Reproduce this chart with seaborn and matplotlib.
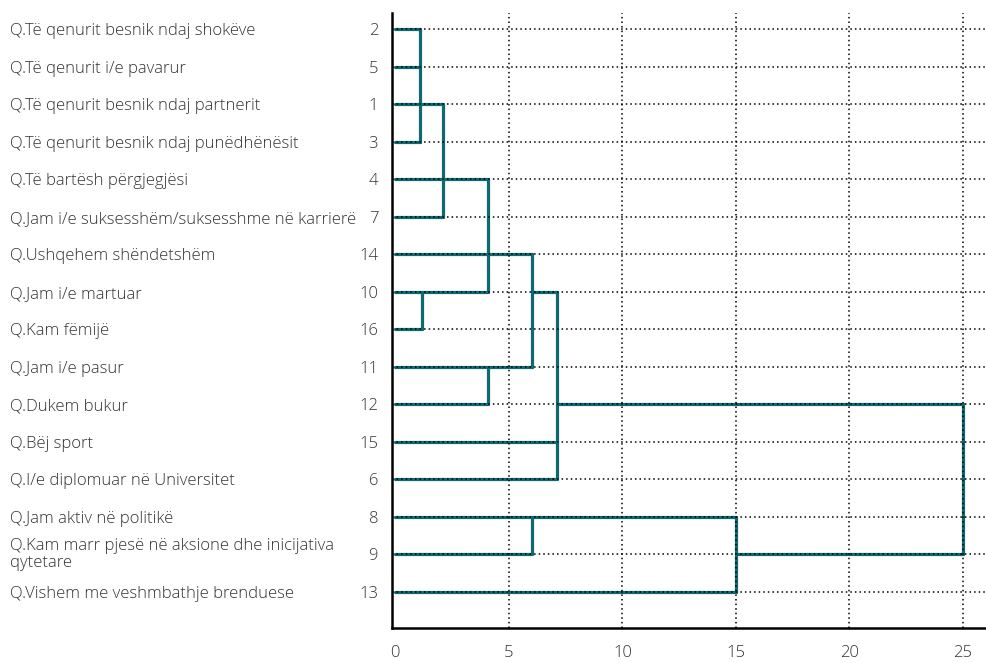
"""
Dendrogram (rescaled distance) of the Q-items, drawn with seaborn lineplot.
"""

import numpy as np
import pandas as pd
import matplotlib
matplotlib.use("Agg")
import matplotlib.pyplot as plt
import matplotlib.transforms as mtransforms
import seaborn as sns

# Leaves, top to bottom
leaf_ids = [2, 5, 1, 3, 4, 7, 14, 10, 16, 11, 12, 15, 6, 8, 9, 13]
leaf_labels = [
    "Q.Të qenurit besnik ndaj shokëve",
    "Q.Të qenurit i/e pavarur",
    "Q.Të qenurit besnik ndaj partnerit",
    "Q.Të qenurit besnik ndaj punëdhënësit",
    "Q.Të bartësh përgjegjësi",
    "Q.Jam i/e suksesshëm/suksesshme në karrierë",
    "Q.Ushqehem shëndetshëm",
    "Q.Jam i/e martuar",
    "Q.Kam fëmijë",
    "Q.Jam i/e pasur",
    "Q.Dukem bukur",
    "Q.Bëj sport",
    "Q.I/e diplomuar në Universitet",
    "Q.Jam aktiv në politikë",
    "Q.Kam marr pjesë në aksione dhe inicijativa\nqytetare",
    "Q.Vishem me veshmbathje brenduese",
]

# Horizontal links: row index, start distance, end distance
h_row = [0, 1, 2, 3, 4, 5, 6, 7, 7, 8, 9, 10, 10, 11, 12, 13, 14, 14, 15]
h_from = [0, 0, 0, 0, 0, 0, 0, 0, 6.02, 0, 0, 0, 7.11, 0, 0, 0, 0, 15.0, 0]
h_to = [1.09, 1.09, 2.10, 1.09, 4.08, 2.10, 6.02, 4.08, 7.11, 1.16, 6.02,
        4.08, 25.0, 7.11, 7.11, 15.0, 6.02, 25.0, 15.0]

# Vertical links: distance, first row, last row
v_dist = [1.09, 2.10, 4.08, 1.16, 4.08, 6.02, 7.11, 6.02, 15.0, 25.0]
v_top = [0, 2, 4, 7, 9, 6, 7, 13, 13, 10]
v_bottom = [3, 5, 7, 8, 10, 9, 12, 14, 15, 14]

x_ticks = [0, 5, 10, 15, 20, 25]

LINE_COLOR = "#0e6a70"
TEXT_COLOR = "#333333"
FONT_SIZE = 12


def build_segments():
    rows = []
    seg = 0
    for r, a, b in zip(h_row, h_from, h_to):
        rows.append((seg, a, r))
        rows.append((seg, b, r))
        seg += 1
    for d, t, b in zip(v_dist, v_top, v_bottom):
        rows.append((seg, d, t))
        rows.append((seg, d, b))
        seg += 1
    return pd.DataFrame(rows, columns=["seg", "dist", "row"])


def main():
    sns.set_theme(style="white")
    plt.rcParams["font.family"] = ["Open Sans", "DejaVu Sans"]
    plt.rcParams["font.weight"] = "light"

    fig = plt.figure(figsize=(9.87, 6.63), dpi=100)
    ax = fig.add_axes([392 / 987, 35 / 663, 1 - 392 / 987, (628 - 13) / 663])

    df = build_segments()
    sns.lineplot(data=df, x="dist", y="row", units="seg", estimator=None,
                 sort=False, color=LINE_COLOR, linewidth=2.3, ax=ax,
                 legend=False, zorder=2)

    ax.set_xlim(-0.145, 26.06)
    ax.set_ylim(15.96, -0.43)
    ax.set_xlabel("")
    ax.set_ylabel("")

    ax.set_xticks(x_ticks)
    ax.set_xticklabels([str(t) for t in x_ticks])
    ax.set_yticks(range(len(leaf_ids)))
    ax.set_yticklabels([str(i) for i in leaf_ids])
    ax.tick_params(axis="x", length=0, pad=12, labelsize=FONT_SIZE, labelcolor=TEXT_COLOR)
    ax.tick_params(axis="y", length=0, pad=10, labelsize=FONT_SIZE, labelcolor=TEXT_COLOR)

    # dotted grid drawn over the links
    ax.set_axisbelow(False)
    ax.grid(True, color="black", linestyle=(0, (1, 2)), linewidth=1.1)
    for g in ax.get_xgridlines()[:1]:
        g.set_visible(False)

    for side in ["top", "right"]:
        ax.spines[side].set_visible(False)
    for side in ["left", "bottom"]:
        ax.spines[side].set_color("black")
        ax.spines[side].set_linewidth(1.8)

    trans = mtransforms.blended_transform_factory(fig.transFigure, ax.transData)
    for i, lab in enumerate(leaf_labels):
        va = "center" if "\n" in lab else "center_baseline"
        ax.text(10 / 987, i, lab, transform=trans, ha="left", va=va,
                fontsize=FONT_SIZE, color=TEXT_COLOR, linespacing=1.05)

    fig.savefig("out.png", dpi=100)
    plt.close(fig)


if __name__ == "__main__":
    main()
